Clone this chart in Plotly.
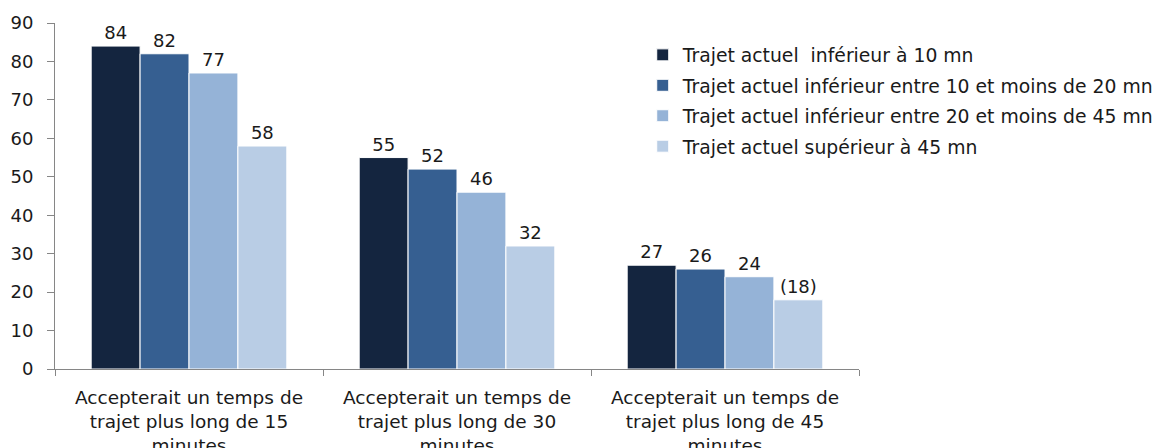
import plotly.graph_objects as go

categories = [
    "Accepterait un temps de<br>trajet plus long de 15<br>minutes",
    "Accepterait un temps de<br>trajet plus long de 30<br>minutes",
    "Accepterait un temps de<br>trajet plus long de 45<br>minutes",
]
series_names = [
    "Trajet actuel  inférieur à 10 mn",
    "Trajet actuel inférieur entre 10 et moins de 20 mn",
    "Trajet actuel inférieur entre 20 et moins de 45 mn",
    "Trajet actuel supérieur à 45 mn",
]
under_10 = [84, 55, 27]
from_10_to_20 = [82, 52, 26]
from_20_to_45 = [77, 46, 24]
over_45 = [58, 32, 18]
over_45_labels = ["58", "32", "(18)"]

colors = ["#14253f", "#365f91", "#95b3d7", "#b9cde5"]
values = [under_10, from_10_to_20, from_20_to_45, over_45]
labels = [[str(v) for v in under_10], [str(v) for v in from_10_to_20],
          [str(v) for v in from_20_to_45], over_45_labels]

num_font = dict(family="DejaVu Sans", size=18, color="#1a1a1a")
cat_font = dict(family="DejaVu Sans", size=18.5, color="#1a1a1a")
leg_font = dict(family="DejaVu Sans", size=18.8, color="#1a1a1a")

fig = go.Figure()
for i, (name, vals, txt, col) in enumerate(zip(series_names, values, labels, colors)):
    fig.add_trace(go.Bar(
        x=categories, y=vals, name=name, legendgroup=f"g{i}",
        text=txt, textposition="outside", cliponaxis=False,
        textfont=num_font,
        marker=dict(color=col, line=dict(color="white", width=1)),
    ))

# the page body keeps its default 8px margin, so left/top margins are reduced by 8;
# the figure is a bit wider than the window so the legend never pushes the margin
fig.update_layout(
    width=1185, height=448,
    margin=dict(l=47, r=334, t=15, b=87),
    plot_bgcolor="white", paper_bgcolor="white",
    font=num_font,
    barmode="group", bargap=0.27, bargroupgap=0,
    showlegend=True,
    legend=dict(x=0.731, y=0.962, xanchor="left", yanchor="top",
                font=leg_font, bgcolor="rgba(0,0,0,0)", tracegroupgap=3,
                itemwidth=30),
)
fig.update_yaxes(range=[0, 90], dtick=10, showgrid=False, zeroline=False,
                 showline=True, linecolor="#868686", ticks="outside",
                 ticklen=7, tickcolor="#868686", automargin=False,
                 ticklabelstandoff=10, tickfont=num_font)
fig.update_xaxes(showline=True, linecolor="#868686", ticks="outside",
                 tickson="boundaries", ticklen=6, tickcolor="#868686",
                 automargin=False, ticklabelstandoff=12, tickfont=cat_font)

fig.write_html("out.html")
